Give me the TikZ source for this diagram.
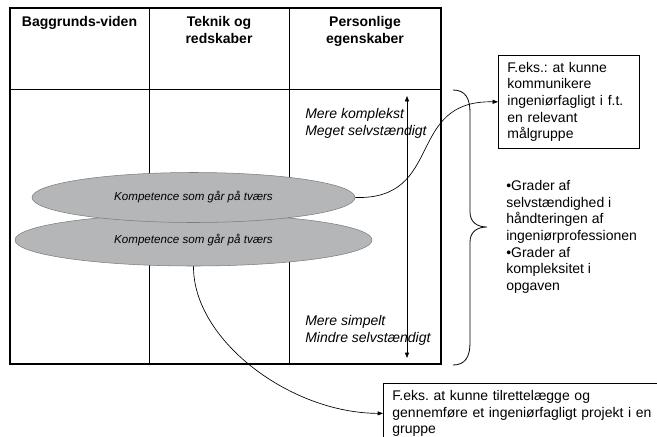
\documentclass[tikz,border=0pt]{standalone}
\usepackage{fontspec}
\setmainfont{Liberation Sans}
\usepackage{tikz}
\usetikzlibrary{shapes.geometric,arrows.meta,positioning}
\newcommand{\bodyfont}{\fontsize{10.5}{12.5}\selectfont}
\newcommand{\ovalfont}{\fontsize{8.7}{10}\selectfont\itshape}
\definecolor{ovalgray}{RGB}{180,182,184}
\definecolor{ovaledge}{RGB}{125,125,125}
\frenchspacing
\tikzset{
  hdr/.style={anchor=north,inner sep=0pt,align=center,font=\bodyfont\bfseries},
  note/.style={anchor=north west,inner sep=0pt,align=left,font=\bodyfont},
  oval/.style={ellipse,draw=ovaledge,line width=0.4pt,fill=ovalgray,inner sep=0pt,font=\ovalfont},
  textbox/.style={draw,line width=0.6pt,anchor=north west,align=left,font=\bodyfont,inner xsep=6.75pt,inner ysep=0pt},
  curvearrow/.style={-{Triangle[length=4pt,width=3pt]},line width=0.5pt}
}

\begin{document}
\begin{tikzpicture}[x=0.75pt,y=0.75pt,yscale=-1,xscale=1]
\clip (0,0) rectangle (657,436); %picture is 657 x 436

%Straight Lines
\draw [line width=0.75pt]   (10,89) -- (441,89) ;
%Straight Lines
\draw [line width=0.75pt]   (149,8) -- (149,364) ;
%Straight Lines
\draw [line width=0.75pt]   (289,8) -- (289,364) ;
%Shape: Rectangle
\draw [line width=1.6pt]   (10,8) rectangle (441,364) ;

% Text Node
\draw (79.5,16.5) node (hdrA) [hdr] {Baggrunds-viden};
% Text Node
\draw (219,16.5) node (hdrB) [hdr] {Teknik og\\redskaber};
% Text Node
\draw (365,16.5) node (hdrC) [hdr] {Personlige\\egenskaber};
% Text Node
\draw (305,108) node (hiTxt) [note] {\itshape Mere komplekst\\\itshape Meget selvstændigt};
% Text Node
\draw (305,315) node (loTxt) [note] {\itshape Mere simpelt\\\itshape Mindre selvstændigt};

%Straight Lines
\coordinate (up) at (407,96);
\coordinate (dn) at (407,358);
\draw [{Triangle[length=4pt,width=3pt]}-{Triangle[length=4pt,width=3pt]},line width=0.5pt]   (dn) -- (up) ;

%Shape: Ellipse
\draw (193.5,240) node (ovalB) [oval,minimum width=267.75pt,minimum height=39pt] {Kompetence som går på tværs};
%Shape: Ellipse
\draw (193.5,197.5) node (ovalA) [oval,minimum width=242.25pt,minimum height=37.5pt] {Kompetence som går på tværs};

% Text Node
\draw (498,55) node (boxA) [textbox,text width=92.25pt,minimum height=69.75pt] {F.eks.: at kunne\\kommunikere\\ingeniørfagligt i f.t.\\en relevant\\målgruppe};
% Text Node
\draw (383,383) node (boxB) [textbox,text width=200pt,minimum height=45pt] {F.eks. at kunne tilrettelægge og\\gennemføre et ingeniørfagligt projekt i en\\gruppe};

%Curve Lines
\draw [curvearrow]   (ovalA.east) .. controls (445,200) and (405,100) .. (boxA.west) ;
%Curve Lines
\draw [curvearrow]   (ovalB.south) .. controls (193,340) and (290,413) .. (boxB.west) ;

%Curve Lines
\draw [line width=0.6pt]   (453,90) .. controls (465,90) and (470,98) .. (470,112) -- (470,212) .. controls (470,222) and (477,227) .. (487,227) .. controls (477,227) and (470,232) .. (470,242) -- (470,343) .. controls (470,357) and (465,365) .. (453,365) ;

% Text Node
\draw (506,180) node (gradTxt) [note] {•Grader af\\selvstændighed i\\håndteringen af\\ingeniørprofessionen\\•Grader af\\kompleksitet i\\opgaven};

\end{tikzpicture}
\end{document}
